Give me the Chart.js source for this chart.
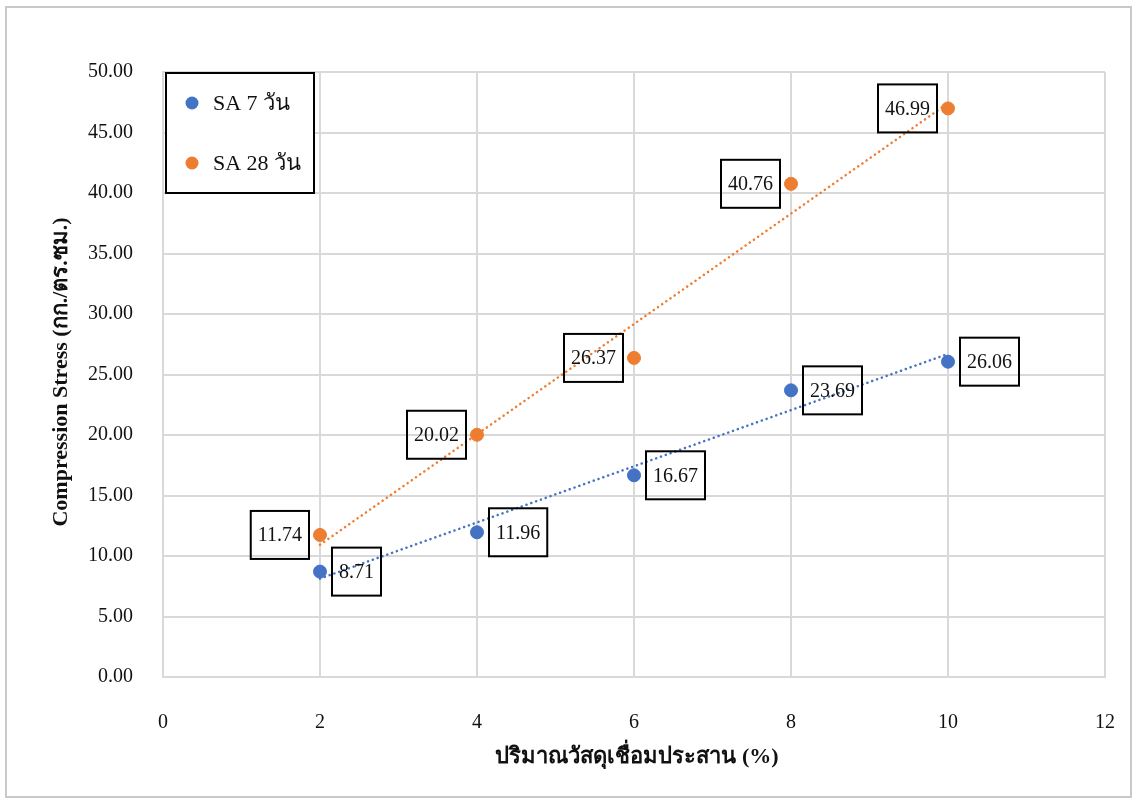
<!DOCTYPE html>
<html lang="th">
<head>
  <meta charset="utf-8">
  <title>Compression Stress</title>
  <script src="https://cdn.jsdelivr.net/npm/chart.js"></script>
  <style>
    body {
      margin: 0;
      background-color: #fff;
    }
    .chart-box {
      position: relative;
      width: 1136px;
      height: 799px;
    }
  </style>
</head>
<body>
  <div class="chart-box">
    <canvas id="stressChart"></canvas>
  </div>
  <script>
    // data
    const xValues = [2, 4, 6, 8, 10];
    const sa7Values = [8.71, 11.96, 16.67, 23.69, 26.06];
    const sa28Values = [11.74, 20.02, 26.37, 40.76, 46.99];
    const seriesNames = ['SA 7 วัน', 'SA 28 วัน'];
    // linear trendline end points (x = 2 and x = 10)
    const trendX = [2, 10];
    const trendSA7 = [8.13, 26.70];
    const trendSA28 = [10.93, 47.42];
    const xTitle = 'ปริมาณวัสดุเชื่อมประสาน (%)';
    const yTitle = 'Compression Stress (กก./ตร.ซม.)';

    const blue = '#4472C4';
    const orange = '#ED7D31';
    const serif = '"Liberation Serif", "Times New Roman", serif';

    function toPoints(xs, ys) {
      return xs.map((x, i) => ({ x: x, y: ys[i] }));
    }

    // white page + thin grey frame round the chart
    const framePlugin = {
      id: 'frame',
      beforeDraw(chart) {
        const ctx = chart.ctx;
        ctx.save();
        ctx.fillStyle = '#fff';
        ctx.fillRect(0, 0, chart.width, chart.height);
        ctx.strokeStyle = '#c9c9c9';
        ctx.lineWidth = 2;
        ctx.strokeRect(6, 7, 1125, 790);
        ctx.restore();
      }
    };

    // boxed value labels: SA 7 to the right, SA 28 to the left
    const boxLabels = {
      id: 'boxLabels',
      afterDatasetsDraw(chart) {
        const ctx = chart.ctx;
        ctx.save();
        ctx.font = '20px ' + serif;
        ctx.textAlign = 'center';
        ctx.textBaseline = 'middle';
        [0, 1].forEach(function(di) {
          const meta = chart.getDatasetMeta(di);
          const values = chart.data.datasets[di].data;
          meta.data.forEach(function(pt, i) {
            const text = values[i].y.toFixed(2);
            const w = ctx.measureText(text).width + 14;
            const h = 48;
            const left = di === 0 ? pt.x + 12 : pt.x - 11 - w;
            const top = pt.y - h / 2;
            ctx.strokeStyle = '#000';
            ctx.lineWidth = 2;
            ctx.strokeRect(left, top, w, h);
            ctx.fillStyle = '#111';
            ctx.fillText(text, left + w / 2, pt.y + 1);
          });
        });
        ctx.restore();
      }
    };

    // legend box in the top left corner plus the two axis titles
    const extras = {
      id: 'extras',
      afterDraw(chart) {
        const ctx = chart.ctx;
        ctx.save();
        ctx.fillStyle = '#fff';
        ctx.fillRect(166, 73, 148, 120);
        ctx.strokeStyle = '#000';
        ctx.lineWidth = 2;
        ctx.strokeRect(166, 73, 148, 120);
        ctx.font = '22px ' + serif;
        ctx.textAlign = 'left';
        ctx.textBaseline = 'middle';
        [blue, orange].forEach(function(c, i) {
          const y = 103 + i * 60;
          ctx.fillStyle = c;
          ctx.beginPath();
          ctx.arc(192, y, 6.5, 0, Math.PI * 2);
          ctx.fill();
          ctx.fillStyle = '#111';
          ctx.fillText(seriesNames[i], 213, y + 1);
        });

        ctx.fillStyle = '#111';
        ctx.font = 'bold 22px ' + serif;
        ctx.textAlign = 'center';
        ctx.fillText(xTitle, 637, 757);
        ctx.translate(61, 372);
        ctx.rotate(-Math.PI / 2);
        ctx.fillText(yTitle, 0, 0);
        ctx.restore();
      }
    };

    const ctx = document.getElementById('stressChart').getContext('2d');
    const chart = new Chart(ctx, {
      type: 'scatter',
      data: {
        datasets: [{
          label: seriesNames[0],
          data: toPoints(xValues, sa7Values),
          backgroundColor: blue,
          borderColor: blue,
          pointRadius: 6.5,
          pointHoverRadius: 6.5,
          order: 2
        }, {
          label: seriesNames[1],
          data: toPoints(xValues, sa28Values),
          backgroundColor: orange,
          borderColor: orange,
          pointRadius: 6.5,
          pointHoverRadius: 6.5,
          order: 2
        }, {
          label: 'trend SA 7',
          data: toPoints(trendX, trendSA7),
          showLine: true,
          borderColor: blue,
          borderWidth: 2.5,
          borderDash: [0.1, 5],
          borderCapStyle: 'round',
          pointRadius: 0,
          order: 1
        }, {
          label: 'trend SA 28',
          data: toPoints(trendX, trendSA28),
          showLine: true,
          borderColor: orange,
          borderWidth: 2.5,
          borderDash: [0.1, 5],
          borderCapStyle: 'round',
          pointRadius: 0,
          order: 1
        }]
      },
      options: {
        responsive: true,
        maintainAspectRatio: false,
        animation: false,
        layout: {
          padding: { left: 0, top: 72, right: 31, bottom: 0 }
        },
        plugins: {
          legend: { display: false },
          tooltip: { enabled: false }
        },
        scales: {
          x: {
            type: 'linear',
            min: 0,
            max: 12,
            afterFit: function(scale) {
              scale.height = 122;
              scale.paddingLeft = 0;
              scale.paddingRight = 0;
            },
            ticks: {
              stepSize: 2,
              padding: 34,
              color: '#111',
              font: { family: serif, size: 20 }
            },
            grid: { color: '#d9d9d9', lineWidth: 2, drawTicks: false },
            border: { color: '#d9d9d9', width: 2 }
          },
          y: {
            min: 0,
            max: 50,
            afterFit: function(scale) {
              scale.width = 163;
              scale.paddingTop = 0;
              scale.paddingBottom = 0;
            },
            ticks: {
              stepSize: 5,
              padding: 30,
              color: '#111',
              font: { family: serif, size: 20 },
              callback: function(v) { return v.toFixed(2); }
            },
            grid: { color: '#d9d9d9', lineWidth: 2, drawTicks: false },
            border: { color: '#d9d9d9', width: 2 }
          }
        }
      },
      plugins: [framePlugin, boxLabels, extras]
    });
  </script>
</body>
</html>
